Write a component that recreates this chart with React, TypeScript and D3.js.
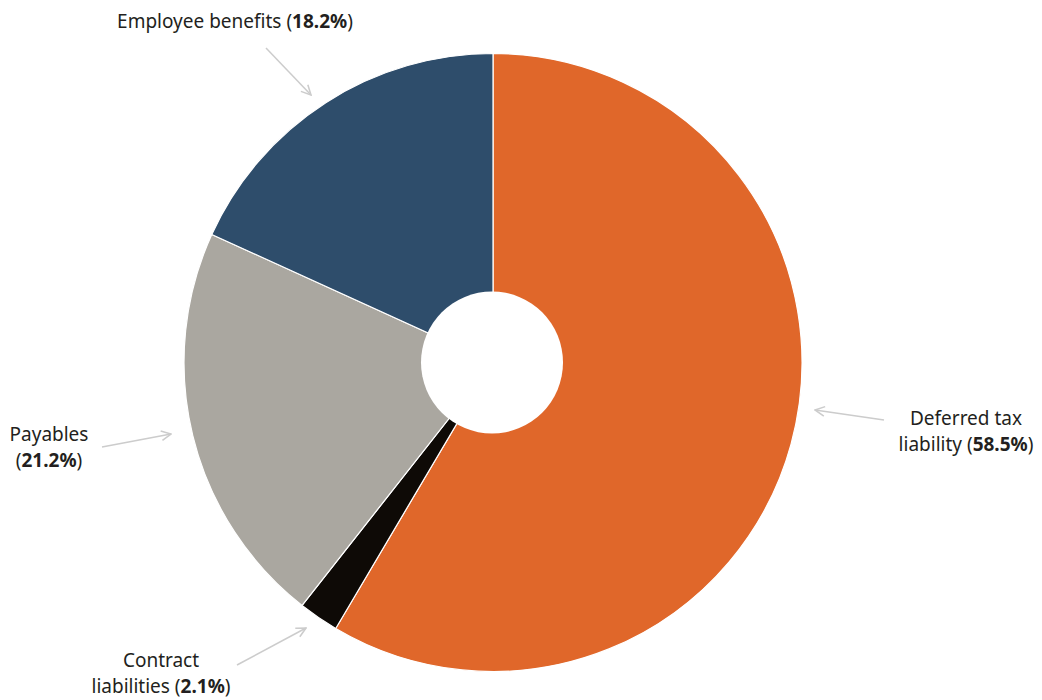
import React from "react";
import * as d3 from "d3";

const categories = ["Deferred tax liability", "Contract liabilities", "Payables", "Employee benefits"];
const values = [58.5, 2.1, 21.2, 18.2];
const colors = ["#E0672A", "#0E0A06", "#AAA7A0", "#2E4D6B"];

type Lbl = { lines: { pre: string; bold?: string; post?: string }[]; x: number; y: number; anchor: string; arrow: [number, number, number, number] };
const labels: Lbl[] = [
  { lines: [{ pre: "Deferred tax" }, { pre: "liability (", bold: "58.5%", post: ")" }], x: 966, y: 425, anchor: "middle", arrow: [884, 420, 815, 410] },
  { lines: [{ pre: "Contract" }, { pre: "liabilities (", bold: "2.1%", post: ")" }], x: 161, y: 667, anchor: "middle", arrow: [237, 665, 306, 628] },
  { lines: [{ pre: "Payables" }, { pre: "(", bold: "21.2%", post: ")" }], x: 49, y: 441, anchor: "middle", arrow: [102, 447, 171, 434] },
  { lines: [{ pre: "Employee benefits (", bold: "18.2%", post: ")" }], x: 235, y: 28, anchor: "middle", arrow: [266, 48, 311, 95] },
];

export default function App() {
  const W = 1042, H = 700;
  const cx = 493, cy = 362.5, R = 309, r = 71;
  const pie = d3.pie<number>().sort(null).value((d) => d);
  const arcs = pie(values);
  const arcGen = d3.arc<d3.PieArcDatum<number>>().innerRadius(0).outerRadius(R);
  return (
    <svg width={W} height={H} style={{ position: "absolute", left: 0, top: 0, background: "#fff" }}
      fontFamily="'Source Sans Pro', 'Noto Sans', sans-serif">
      <defs>
        <marker id="ah" viewBox="0 0 10 10" refX="9" refY="5" markerWidth="12" markerHeight="12" markerUnits="userSpaceOnUse" orient="auto">
          <path d="M1,1 L9,5 L1,9" fill="none" stroke="#CCCCCC" strokeWidth="1.3" />
        </marker>
      </defs>
      <g transform={`translate(${cx},${cy})`}>
        {arcs.map((a, i) => (
          <path key={i} d={arcGen(a) || ""} fill={colors[i]} stroke="#fff" strokeWidth={1.2} />
        ))}
        <circle cx={-1} cy={0} r={r} fill="#fff" />
      </g>
      {labels.map((l, i) => (
        <g key={i}>
          <line x1={l.arrow[0]} y1={l.arrow[1]} x2={l.arrow[2]} y2={l.arrow[3]} stroke="#CCCCCC" strokeWidth={1.5} markerEnd="url(#ah)" />
          <text x={l.x} y={l.y} textAnchor={l.anchor} fontSize={19} fill="#231F20">
            {l.lines.map((ln, j) => (
              <tspan key={j} x={l.x} dy={j === 0 ? 0 : 26}>
                {ln.pre}
                {ln.bold && <tspan fontWeight="bold">{ln.bold}</tspan>}
                {ln.post}
              </tspan>
            ))}
          </text>
        </g>
      ))}
    </svg>
  );
}
